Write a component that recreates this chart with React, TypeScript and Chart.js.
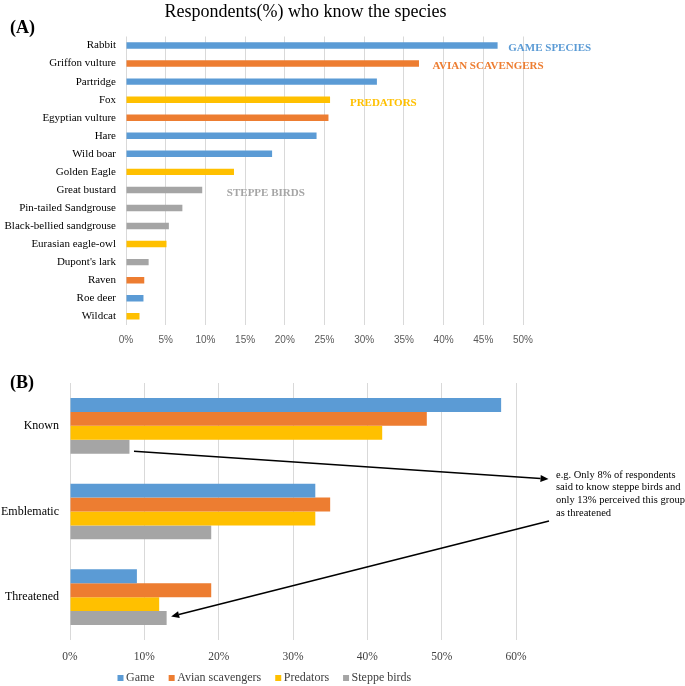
import React, { useEffect, useRef } from "react";
import { Chart, registerables } from "chart.js";

Chart.register(...registerables);

// ---------- Panel A data ----------
const speciesLabels = [
  "Rabbit",
  "Griffon vulture",
  "Partridge",
  "Fox",
  "Egyptian vulture",
  "Hare",
  "Wild boar",
  "Golden Eagle",
  "Great bustard",
  "Pin-tailed Sandgrouse",
  "Black-bellied sandgrouse",
  "Eurasian eagle-owl",
  "Dupont's lark",
  "Raven",
  "Roe deer",
  "Wildcat",
];
const speciesKnown = [46.8, 36.9, 31.6, 25.7, 25.5, 24.0, 18.4, 13.6, 9.6, 7.1, 5.4, 5.1, 2.85, 2.3, 2.2, 1.7];
const speciesGroup = [
  "game", "avian", "game", "predator", "avian", "game", "game", "predator",
  "steppe", "steppe", "steppe", "predator", "steppe", "avian", "game", "predator",
];
const groupKeys = ["game", "avian", "predator", "steppe"];
const groupColors = ["#5B9BD5", "#ED7D31", "#FFC000", "#A5A5A5"];
const groupTagText = ["GAME SPECIES", "AVIAN SCAVENGERS", "PREDATORS", "STEPPE BIRDS"];
const groupTagRow = [0, 1, 3, 8];
const groupTagValue = [48.15, 38.6, 28.2, 12.7];
const titleA = "Respondents(%) who know the species";

// ---------- Panel B data ----------
const perceptionCategories = ["Known", "Emblematic", "Threatened"];
const gameValues = [58, 33, 9];
const avianValues = [48, 35, 19];
const predatorValues = [42, 33, 12];
const steppeValues = [8, 19, 13];
const seriesNames = ["Game", "Avian scavengers", "Predators", "Steppe birds"];
const noteLines = [
  "e.g. Only 8% of respondents",
  "said to know steppe birds and",
  "only 13% perceived this group",
  "as threatened",
];

const SERIF = "'Liberation Serif', 'Times New Roman', serif";
const SANS = "'Liberation Sans', Arial, sans-serif";

function drawArrow(ctx: CanvasRenderingContext2D, x1: number, y1: number, x2: number, y2: number) {
  const ang = Math.atan2(y2 - y1, x2 - x1);
  const hl = 8;
  const hw = 3.5;
  const bx = x2 - hl * Math.cos(ang);
  const by = y2 - hl * Math.sin(ang);
  ctx.save();
  ctx.strokeStyle = "#000";
  ctx.fillStyle = "#000";
  ctx.lineWidth = 1.6;
  ctx.beginPath();
  ctx.moveTo(x1, y1);
  ctx.lineTo(bx, by);
  ctx.stroke();
  ctx.beginPath();
  ctx.moveTo(x2, y2);
  ctx.lineTo(bx + hw * Math.sin(ang), by - hw * Math.cos(ang));
  ctx.lineTo(bx - hw * Math.sin(ang), by + hw * Math.cos(ang));
  ctx.closePath();
  ctx.fill();
  ctx.restore();
}

export default function App() {
  const refA = useRef<HTMLCanvasElement | null>(null);
  const refB = useRef<HTMLCanvasElement | null>(null);

  useEffect(() => {
    if (!refA.current || !refB.current) return;

    const annotA = {
      id: "annotA",
      afterDraw(chart: any) {
        const ctx = chart.ctx;
        const xs = chart.scales.x;
        const ys = chart.scales.y;
        ctx.save();
        ctx.fillStyle = "#000";
        ctx.font = `18px ${SERIF}`;
        ctx.textAlign = "center";
        ctx.textBaseline = "middle";
        ctx.fillText(titleA, 305.5, 12.5);
        ctx.font = `bold 18px ${SERIF}`;
        ctx.textAlign = "left";
        ctx.fillText("(A)", 10, 28);
        ctx.font = `bold 11px ${SERIF}`;
        groupTagText.forEach((t, i) => {
          ctx.fillStyle = groupColors[i];
          ctx.fillText(t, xs.getPixelForValue(groupTagValue[i]), ys.getPixelForValue(groupTagRow[i]) + 3);
        });
        ctx.restore();
      },
    };

    const chartA = new Chart(refA.current, {
      type: "bar",
      data: {
        labels: speciesLabels,
        datasets: [
          {
            data: speciesKnown,
            backgroundColor: speciesGroup.map((g) => groupColors[groupKeys.indexOf(g)]),
            categoryPercentage: 1,
            barPercentage: 0.36,
          },
        ],
      },
      options: {
        indexAxis: "y",
        animation: false,
        responsive: false,
        devicePixelRatio: 1,
        layout: { padding: { top: 36.5, right: 162, left: 0, bottom: 0 } },
        plugins: { legend: { display: false }, tooltip: { enabled: false }, title: { display: false } },
        scales: {
          x: {
            min: 0,
            max: 50,
            ticks: {
              stepSize: 5,
              padding: 9,
              color: "#595959",
              font: { family: SANS, size: 10 },
              callback: (v: any) => v + "%",
            },
            grid: { color: "#D9D9D9", drawTicks: false, lineWidth: 1 },
            border: { display: false },
            afterFit: (axis: any) => {
              axis.height = 24.7;
            },
          },
          y: {
            ticks: { padding: 10, color: "#000", font: { family: SERIF, size: 11 }, autoSkip: false },
            grid: { display: false, drawTicks: false },
            border: { display: false },
            afterFit: (axis: any) => {
              axis.width = 126;
            },
          },
        },
      },
      plugins: [annotA],
    } as any);

    const annotB = {
      id: "annotB",
      afterDraw(chart: any) {
        const ctx = chart.ctx;
        ctx.save();
        ctx.fillStyle = "#000";
        ctx.font = `bold 18px ${SERIF}`;
        ctx.textAlign = "left";
        ctx.textBaseline = "middle";
        ctx.fillText("(B)", 10, 33);

        // legend
        ctx.font = `12px ${SERIF}`;
        let lx = 117.5;
        const ly = 328;
        chart.data.datasets.forEach((ds: any) => {
          ctx.fillStyle = ds.backgroundColor;
          ctx.fillRect(lx, ly - 3, 6, 6);
          ctx.fillStyle = "#404040";
          ctx.fillText(ds.label, lx + 8.5, ly);
          lx += 8.5 + ctx.measureText(ds.label).width + 14;
        });

        // note
        ctx.fillStyle = "#000";
        ctx.font = `10.5px ${SERIF}`;
        noteLines.forEach((l, i) => ctx.fillText(l, 556, 125 + i * 12.6));

        const steppeMeta = chart.getDatasetMeta(3);
        const known = steppeMeta.data[0];
        const threat = steppeMeta.data[2];
        drawArrow(ctx, known.x + 4.5, known.y + 4.5, 548.5, 129);
        drawArrow(ctx, 549, 171, threat.x + 4.5, threat.y - 1.5);
        ctx.restore();
      },
    };

    const seriesValues = [gameValues, avianValues, predatorValues, steppeValues];
    const chartB = new Chart(refB.current, {
      type: "bar",
      data: {
        labels: perceptionCategories,
        datasets: seriesNames.map((n, i) => ({
          label: n,
          data: seriesValues[i],
          backgroundColor: groupColors[i],
          categoryPercentage: 0.649,
          barPercentage: 1,
        })),
      },
      options: {
        indexAxis: "y",
        animation: false,
        responsive: false,
        devicePixelRatio: 1,
        layout: { padding: { top: 33, right: 169, left: 0, bottom: 0 } },
        plugins: { legend: { display: false }, tooltip: { enabled: false }, title: { display: false } },
        scales: {
          x: {
            min: 0,
            max: 60,
            ticks: {
              stepSize: 10,
              padding: 10,
              color: "#404040",
              font: { family: SERIF, size: 11.5 },
              callback: (v: any) => v + "%",
            },
            grid: { color: "#D9D9D9", drawTicks: false, lineWidth: 1 },
            border: { display: false },
            afterFit: (axis: any) => {
              axis.height = 46;
            },
          },
          y: {
            ticks: { padding: 11, color: "#000", font: { family: SERIF, size: 12 } },
            grid: { display: false, drawTicks: false },
            border: { display: false },
            afterFit: (axis: any) => {
              axis.width = 70;
            },
          },
        },
      },
      plugins: [annotB],
    } as any);

    return () => {
      chartA.destroy();
      chartB.destroy();
    };
  }, []);

  return (
    <div style={{ position: "absolute", left: 0, top: 0, width: 685, height: 686, background: "#fff" }}>
      <canvas ref={refA} width={685} height={350} style={{ position: "absolute", left: 0, top: 0 }} />
      <canvas ref={refB} width={685} height={336} style={{ position: "absolute", left: 0, top: 350 }} />
    </div>
  );
}
